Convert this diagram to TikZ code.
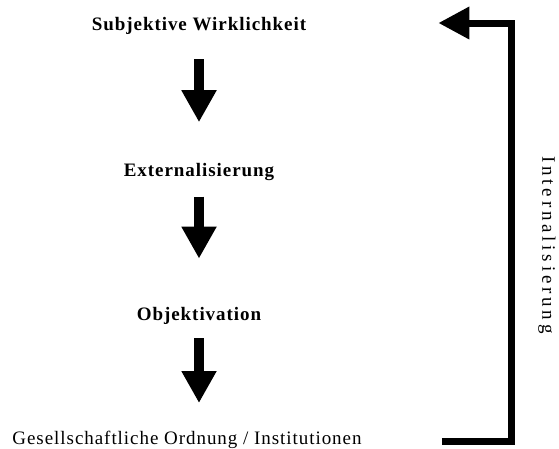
\documentclass[tikz,border=0pt]{standalone}
\usepackage{fontspec}
\setmainfont{Liberation Serif}[LetterSpace=5]
\usetikzlibrary{positioning}
\usetikzlibrary{arrows.meta}
\tikzset{
  stage/.style={font=\fontsize{19}{22}\selectfont\bfseries, inner sep=0pt, text height=13pt, text depth=4pt},
  flow/.style={draw, line width=10pt, -{Triangle[width=33pt,length=32pt]}},
  back/.style={draw, line width=7pt, -{Triangle[width=31pt,length=31pt]}}
}

\begin{document}
\begin{tikzpicture}
\useasboundingbox (0,0) rectangle (559pt,-448pt);
\node (subj) [stage] at (199pt,-25.5pt) {Subjektive Wirklichkeit};
\node (ext) [stage, below=129pt of subj] {Externalisierung};
\node (obj) [stage, below=127pt of ext] {Objektivation};
\node (ges) [stage, font=\fontsize{19}{22}\selectfont, below=106pt of obj, xshift=-12pt] {Gesellschaftliche Ordnung / Institutionen};
\node (intl) [font=\fontsize{19}{22}\selectfont\addfontfeatures{LetterSpace=20}, rotate=-90] at (547pt,-245pt) {Internalisierung};
\coordinate (in) at ([xshift=80pt, yshift=-1.5pt]ges.east);
\coordinate (out) at ([xshift=132pt, yshift=2.5pt]subj.east);

\path [flow, shorten <=25pt, shorten >=41pt] (subj) -- (ext);
\path [flow, shorten <=16pt, shorten >=49pt] (ext) -- (obj);
\path [flow, shorten <=13pt, shorten >=28pt] (obj.south) -- (obj.south |- ges.north);
\path [back] (in) -- ++(70pt,0) |- (out);
\end{tikzpicture}
\end{document}
